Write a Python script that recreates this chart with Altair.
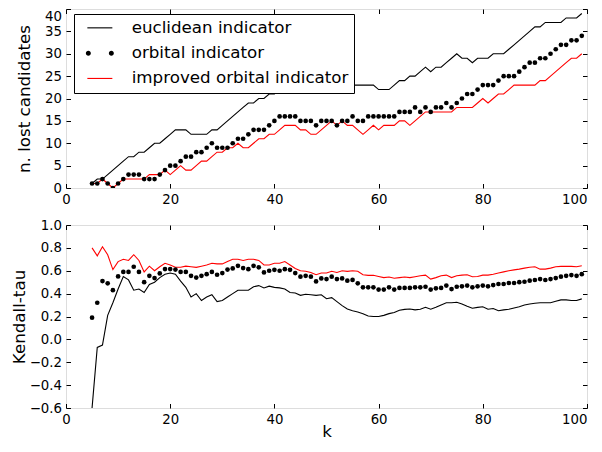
import altair as alt
import pandas as pd

# ---------------- data ----------------
k = list(range(5, 100))

series_names = ["euclidean indicator", "orbital indicator", "improved orbital indicator"]
series_colors = ["#000000", "#000000", "#ff0000"]

lost_euclidean = [
    1, 2, 2, 3, 4, 5, 6, 7, 7, 8,
    8, 9, 10, 10, 11, 12, 13, 13, 13, 12,
    12, 12, 12, 13, 13, 14, 15, 16, 17, 18,
    19, 19, 20, 20, 21, 21, 22, 22, 22, 23,
    23, 23, 23, 23, 23, 23, 23, 23, 23, 23,
    23, 23, 23, 23, 23, 22, 22, 22, 23, 24,
    24, 25, 25, 26, 27, 26, 27, 27, 28, 29,
    30, 29, 29, 28, 29, 29, 29, 30, 30, 30,
    31, 32, 33, 34, 35, 36, 36, 37, 37, 37,
    37, 38, 38, 38, 39,
]
lost_orbital = [
    1, 1, 2, 1, 0, 1, 2, 3, 3, 3,
    2, 2, 2, 3, 4, 5, 5, 6, 7, 7,
    8, 8, 9, 10, 9, 9, 9, 10, 11, 11,
    12, 13, 13, 13, 14, 15, 16, 16, 16, 16,
    15, 15, 15, 14, 15, 15, 15, 14, 15, 15,
    16, 15, 15, 16, 16, 16, 16, 16, 16, 17,
    17, 17, 18, 17, 18, 17, 18, 18, 19, 18,
    19, 20, 21, 21, 22, 23, 23, 23, 24, 25,
    25, 25, 26, 27, 28, 28, 29, 29, 30, 31,
    32, 32, 33, 33, 34,
]
lost_improved = [
    1, 1, 2, 1, 0, 1, 2, 2, 2, 2,
    2, 3, 3, 3, 4, 3, 4, 5, 4, 4,
    5, 6, 6, 7, 8, 8, 9, 9, 10, 9,
    9, 10, 11, 11, 12, 12, 13, 14, 14, 14,
    13, 13, 12, 12, 13, 14, 15, 14, 15, 14,
    14, 13, 12, 13, 14, 13, 14, 14, 14, 15,
    15, 14, 15, 16, 17, 17, 17, 17, 17, 17,
    18, 18, 18, 18, 19, 20, 19, 20, 21, 21,
    22, 23, 23, 23, 23, 23, 24, 24, 25, 26,
    27, 28, 29, 29, 30,
]

tau_euclidean = [
    -0.6, -0.07, -0.05, 0.21, 0.32, 0.44, 0.55, 0.52, 0.43, 0.44,
    0.41, 0.48, 0.50, 0.54, 0.57, 0.58, 0.57, 0.51, 0.455, 0.37,
    0.40, 0.34, 0.37, 0.39, 0.33, 0.34, 0.37, 0.40, 0.43, 0.43,
    0.43, 0.46, 0.47, 0.45, 0.465, 0.455, 0.45, 0.44, 0.41, 0.405,
    0.385, 0.395, 0.39, 0.385, 0.39, 0.355, 0.365, 0.33, 0.295, 0.265,
    0.25, 0.24, 0.225, 0.205, 0.20, 0.20, 0.21, 0.225, 0.235, 0.255,
    0.262, 0.265, 0.258, 0.264, 0.28, 0.264, 0.28, 0.30, 0.32, 0.32,
    0.325, 0.31, 0.29, 0.272, 0.28, 0.285, 0.264, 0.27, 0.25, 0.258,
    0.264, 0.275, 0.285, 0.30, 0.31, 0.316, 0.32, 0.32, 0.32, 0.333,
    0.345, 0.345, 0.34, 0.34, 0.354,
]
tau_orbital = [
    0.19, 0.32, 0.51, 0.49, 0.43, 0.55, 0.59, 0.59, 0.635, 0.59,
    0.50, 0.556, 0.536, 0.577, 0.615, 0.615, 0.61, 0.59, 0.59, 0.556,
    0.54, 0.556, 0.57, 0.59, 0.565, 0.58, 0.61, 0.62, 0.643, 0.623,
    0.614, 0.643, 0.63, 0.585, 0.60, 0.608, 0.60, 0.614, 0.608, 0.58,
    0.548, 0.556, 0.548, 0.507, 0.533, 0.527, 0.548, 0.527, 0.533, 0.513,
    0.52, 0.49, 0.455, 0.455, 0.455, 0.435, 0.435, 0.455, 0.435, 0.45,
    0.45, 0.45, 0.455, 0.455, 0.46, 0.435, 0.446, 0.45, 0.47, 0.44,
    0.46, 0.464, 0.47, 0.455, 0.464, 0.47, 0.464, 0.475, 0.484, 0.484,
    0.493, 0.493, 0.50, 0.504, 0.513, 0.519, 0.527, 0.519, 0.527, 0.536,
    0.548, 0.556, 0.562, 0.556, 0.57,
]
tau_improved = [
    0.80, 0.73, 0.81, 0.74, 0.61, 0.68, 0.70, 0.69, 0.74, 0.69,
    0.59, 0.64, 0.60, 0.635, 0.665, 0.65, 0.63, 0.63, 0.64, 0.635,
    0.63, 0.64, 0.65, 0.665, 0.66, 0.66, 0.68, 0.70, 0.70, 0.69,
    0.70, 0.70, 0.69, 0.65, 0.65, 0.665, 0.665, 0.68, 0.65, 0.62,
    0.60, 0.595, 0.585, 0.565, 0.58, 0.58, 0.595, 0.585, 0.60, 0.595,
    0.60, 0.595, 0.565, 0.56, 0.56, 0.55, 0.54, 0.545, 0.535, 0.54,
    0.545, 0.54, 0.548, 0.556, 0.562, 0.527, 0.54, 0.556, 0.562, 0.54,
    0.556, 0.562, 0.565, 0.548, 0.55, 0.562, 0.562, 0.57, 0.58, 0.59,
    0.60, 0.608, 0.614, 0.623, 0.63, 0.635, 0.614, 0.614, 0.623, 0.635,
    0.638, 0.638, 0.638, 0.635, 0.643,
]

x_ticks = [0, 20, 40, 60, 80, 100]
lost_ticks = [0, 5, 10, 15, 20, 25, 30, 35, 40]
tau_ticks = [-0.6, -0.4, -0.2, 0.0, 0.2, 0.4, 0.6, 0.8, 1.0]


def to_long(e, o, i):
    rows = []
    for name, vals in zip(series_names, [e, o, i]):
        for kk, v in zip(k, vals):
            rows.append({"k": kk, "value": v, "series": name})
    return pd.DataFrame(rows)


top_df = to_long(lost_euclidean, lost_orbital, lost_improved)
bot_df = to_long(tau_euclidean, tau_orbital, tau_improved)

# ---------------- style ----------------
W = 521
H_TOP = 179
H_BOT = 183
TICK = 4.5
FONT = "DejaVu Sans"
TICK_FS = 13.3
TITLE_FS = 16.7

# legend handle shapes (unit coords, r = 7px)
line_shape = "M-0.071,-0.08L3.5,-0.08L3.5,0.08L-0.071,0.08Z"
dots_shape = ("M-0.286,0A0.357,0.357,0,1,0,0.428,0A0.357,0.357,0,1,0,-0.286,0Z"
              "M3.0,0A0.357,0.357,0,1,0,3.714,0A0.357,0.357,0,1,0,3.0,0Z")


def main_x_axis(title):
    kw = dict(values=x_ticks, tickSize=TICK, offset=-TICK, domain=False, grid=False,
              labelFontSize=TICK_FS, labelPadding=4.5, labelColor="black",
              tickColor="black", labelFont=FONT, labelFlush=False,
              labelAlign=alt.condition("datum.value == 100",
                                       alt.value("right"), alt.value("center")))
    if title:
        kw.update(title=title, titleFontSize=TITLE_FS, titleFontWeight="normal",
                  titleFont=FONT, titlePadding=-2, titleColor="black")
    else:
        kw.update(title=None)
    return alt.Axis(**kw)


def main_y_axis(values, title, title_x, fmt, top_value):
    kw = dict(values=values, tickSize=TICK, offset=-TICK, domain=False, grid=False,
              labelFontSize=TICK_FS, labelPadding=4.5, labelColor="black",
              tickColor="black", labelFont=FONT, format=fmt,
              title=title, titleFontSize=TITLE_FS, titleFontWeight="normal",
              titleFont=FONT, titleColor="black", titleX=title_x,
              titleAngle=270, titleAlign="center", titleBaseline="bottom")
    if top_value is not None:
        kw["labelBaseline"] = alt.condition(f"datum.value == {top_value}",
                                            alt.value("top"), alt.value("middle"))
    return alt.Axis(**kw)


def mirror_axis(orient, values):
    return alt.Axis(orient=orient, values=values, labels=False, tickSize=TICK, offset=-TICK,
                    domain=False, grid=False, title=None, tickColor="black")


def panel(df, ydomain, yticks, ytitle, title_x, xtitle, height, fmt, with_legend, top_value):
    base = alt.Chart(df)
    xs = alt.Scale(domain=[0, 100], nice=False, zero=False)
    ys = alt.Scale(domain=ydomain, nice=False, zero=False)

    line_e = base.transform_filter(
        alt.datum.series == series_names[0]
    ).mark_line(strokeWidth=1.1, clip=True, color=series_colors[0]).encode(
        x=alt.X("k:Q", scale=xs, axis=main_x_axis(xtitle)),
        y=alt.Y("value:Q", scale=ys, axis=main_y_axis(yticks, ytitle, title_x, fmt, top_value)),
    )
    line_i = base.transform_filter(
        alt.datum.series == series_names[2]
    ).mark_line(strokeWidth=1.1, clip=True, color=series_colors[2]).encode(
        x=alt.X("k:Q", scale=xs, axis=None),
        y=alt.Y("value:Q", scale=ys, axis=None),
    )
    dots = base.transform_filter(
        alt.datum.series == series_names[1]
    ).mark_circle(size=22, color=series_colors[1], opacity=1, clip=True).encode(
        x=alt.X("k:Q", scale=xs, axis=mirror_axis("top", x_ticks)),
        y=alt.Y("value:Q", scale=ys, axis=mirror_axis("right", yticks)),
    )
    layers = [line_e, line_i, dots]
    if with_legend:
        leg = alt.Legend(title=None, orient="none", legendX=8, legendY=5,
                         fillColor="white", strokeColor="black", padding=5.5,
                         cornerRadius=0, symbolSize=196, symbolStrokeWidth=0,
                         symbolOpacity=1, labelFontSize=TITLE_FS, labelFont=FONT,
                         labelColor="black", labelOffset=35.5, rowPadding=7.3,
                         labelLimit=400)
        legend_layer = base.transform_filter("false").mark_point(
            filled=True, size=196, opacity=1
        ).encode(
            color=alt.Color("series:N", scale=alt.Scale(domain=series_names, range=series_colors),
                            legend=leg),
            shape=alt.Shape("series:N",
                            scale=alt.Scale(domain=series_names,
                                            range=[line_shape, dots_shape, line_shape]),
                            legend=leg),
        )
        layers.append(legend_layer)
    return alt.layer(*layers).resolve_axis(x="independent", y="independent").properties(
        width=W, height=height)


top = panel(top_df, [0, 40], lost_ticks, "n. lost candidates", -36.6, None, H_TOP, "d", True, 40)
bottom = panel(bot_df, [-0.6, 1.0], tau_ticks, "Kendall-tau", -41.8, "k", H_BOT, ".1f", False, None)

chart = alt.vconcat(top, bottom, spacing=37, bounds="flush").properties(
    padding={"left": 3, "top": 0, "right": 0, "bottom": 0},
    background="white",
).configure_view(stroke="black", strokeWidth=1).configure(font=FONT)

chart.save("out.html", embed_options={"renderer": "svg", "actions": False})
